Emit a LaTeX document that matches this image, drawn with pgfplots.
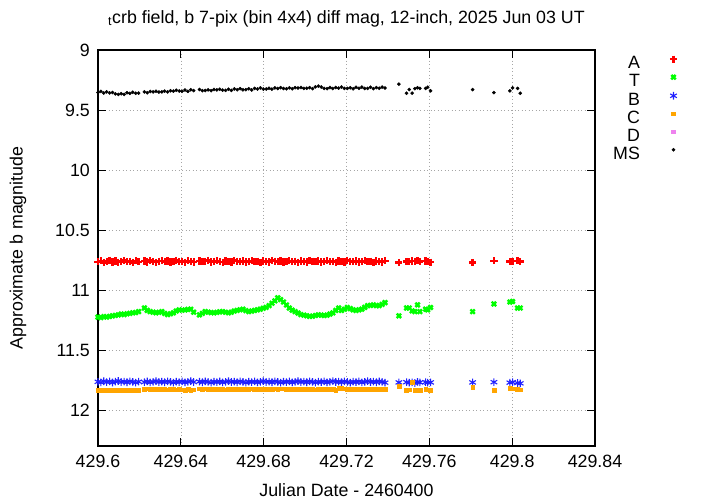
\documentclass[border=0pt]{standalone}
\usepackage{fontspec}
\setmainfont{Liberation Sans}
\usepackage{pgfplots}
\usepackage{pgfplotstable}
\pgfplotsset{compat=1.18}
\definecolor{cOrange}{HTML}{FFA500}
\definecolor{cViolet}{HTML}{EE82EE}
\definecolor{cBlue}{HTML}{2020FF}
\def\jdstrip429.#1\relax{0.#1}
\pgfplotstableread{
t A T B C MS
429.6000 10.764 11.226 11.765 11.835 9.354
429.6014 10.756 11.230 11.770 11.832 9.345
429.6028 10.770 11.222 11.760 11.838 9.358
429.6042 10.760 11.225 11.768 11.834 9.349
429.6056 10.752 11.220 11.762 11.836 9.358
429.6070 10.766 11.215 11.771 11.833 9.354
429.6084 10.758 11.212 11.764 11.837 9.365
429.6098 10.768 11.208 11.758 11.835 9.370
429.6112 10.762 11.200 11.767 11.834 9.364
429.6126 10.754 11.205 11.763 11.838 9.370
429.6140 10.764 11.198 11.769 11.836 9.357
429.6154 10.760 11.195 11.761 11.833 9.361
429.6168 10.770 11.190 11.766 11.837 9.352
429.6182 10.756 11.188 11.772 11.835 9.360
429.6196 10.764 11.180 11.764 11.834 9.359
429.6224 10.758 11.150 11.768 11.825 9.349
429.6238 10.766 11.170 11.762 11.822 9.356
429.6252 10.754 11.180 11.770 11.826 9.346
429.6266 10.762 11.185 11.765 11.828 9.349
429.6280 10.768 11.190 11.759 11.827 9.344
429.6294 10.760 11.186 11.767 11.829 9.350
429.6308 10.756 11.180 11.763 11.826 9.349
429.6322 10.764 11.195 11.769 11.828 9.343
429.6336 10.758 11.205 11.761 11.830 9.349
429.6350 10.766 11.198 11.766 11.827 9.339
429.6364 10.762 11.190 11.772 11.829 9.342
429.6378 10.754 11.175 11.764 11.831 9.336
429.6392 10.764 11.166 11.768 11.828 9.342
429.6406 10.760 11.168 11.762 11.830 9.344
429.6420 10.768 11.166 11.770 11.832 9.334
429.6434 10.756 11.162 11.765 11.829 9.344
429.6448 10.762 11.160 11.759 11.833 9.331
429.6462 10.766 11.185 11.767 11.831 9.338
429.6490 10.758 11.207 11.763 11.822 9.329
429.6504 10.764 11.195 11.769 11.824 9.339
429.6518 10.760 11.180 11.761 11.823 9.338
429.6532 10.754 11.185 11.766 11.825 9.332
429.6546 10.766 11.188 11.772 11.826 9.339
429.6560 10.762 11.190 11.764 11.828 9.329
429.6574 10.756 11.186 11.768 11.827 9.333
429.6588 10.764 11.182 11.762 11.829 9.327
429.6602 10.768 11.180 11.770 11.828 9.334
429.6616 10.758 11.185 11.765 11.830 9.336
429.6630 10.762 11.190 11.759 11.829 9.327
429.6644 10.766 11.185 11.767 11.828 9.337
429.6658 10.754 11.175 11.763 11.826 9.324
429.6672 10.760 11.170 11.769 11.827 9.331
429.6686 10.764 11.165 11.761 11.825 9.322
429.6700 10.758 11.160 11.766 11.826 9.332
429.6714 10.766 11.172 11.772 11.824 9.331
429.6728 10.762 11.180 11.764 11.825 9.323
429.6742 10.756 11.175 11.768 11.823 9.333
429.6756 10.764 11.170 11.762 11.824 9.320
429.6770 10.760 11.165 11.770 11.826 9.325
429.6784 10.768 11.160 11.765 11.825 9.316
429.6798 10.758 11.152 11.759 11.827 9.326
429.6812 10.762 11.145 11.767 11.826 9.325
429.6826 10.766 11.130 11.763 11.824 9.319
429.6840 10.754 11.110 11.769 11.825 9.326
429.6854 10.760 11.090 11.761 11.823 9.316
429.6868 10.764 11.065 11.766 11.824 9.320
429.6882 10.758 11.080 11.772 11.822 9.314
429.6896 10.766 11.100 11.764 11.823 9.321
429.6910 10.762 11.125 11.768 11.825 9.323
429.6924 10.756 11.150 11.762 11.824 9.315
429.6938 10.764 11.168 11.770 11.826 9.323
429.6952 10.760 11.180 11.765 11.825 9.314
429.6966 10.768 11.192 11.759 11.827 9.317
429.6980 10.758 11.205 11.767 11.826 9.312
429.6994 10.762 11.210 11.763 11.828 9.320
429.7008 10.766 11.215 11.769 11.827 9.319
429.7022 10.754 11.220 11.761 11.829 9.314
429.7036 10.760 11.218 11.766 11.828 9.322
429.7050 10.764 11.212 11.772 11.830 9.307
429.7064 10.758 11.207 11.764 11.829 9.301
429.7078 10.766 11.210 11.768 11.827 9.308
429.7092 10.762 11.212 11.762 11.828 9.320
429.7106 10.756 11.210 11.770 11.826 9.322
429.7120 10.764 11.200 11.765 11.828 9.313
429.7134 10.760 11.190 11.759 11.829 9.321
429.7148 10.768 11.170 11.767 11.832 9.312
429.7162 10.758 11.150 11.763 11.820 9.317
429.7176 10.762 11.170 11.769 11.818 9.309
429.7190 10.766 11.160 11.761 11.822 9.320
429.7204 10.754 11.146 11.766 11.825 9.320
429.7218 10.760 11.155 11.772 11.824 9.315
429.7232 10.764 11.165 11.764 11.826 9.323
429.7246 10.758 11.170 11.768 11.825 9.311
429.7260 10.766 11.165 11.762 11.827 9.319
429.7274 10.762 11.160 11.770 11.826 9.309
429.7288 10.756 11.145 11.765 11.828 9.320
429.7302 10.764 11.130 11.759 11.827 9.320
429.7316 10.760 11.128 11.767 11.829 9.311
429.7330 10.768 11.125 11.763 11.828 9.322
429.7344 10.758 11.130 11.769 11.826 9.313
429.7358 10.762 11.130 11.761 11.827 9.318
429.7372 10.766 11.120 11.766 11.825 9.309
429.7386 10.756 11.105 11.772 11.826 9.317
429.7453 10.770 11.215 11.770 11.800 9.285
429.7490 10.762 11.150 11.768 11.832 9.360
429.7503 10.765 11.150 11.772 11.830 9.330
429.7517 10.758 11.174 11.770 11.765 9.360
429.7530 10.760 11.180 11.775 11.835 9.322
429.7543 10.756 11.124 11.766 11.830 9.315
429.7554 10.762 11.180 11.770 11.832 9.320
429.7582 10.758 11.160 11.768 11.828 9.320
429.7592 10.762 11.165 11.772 11.830 9.310
429.7606 10.768 11.146 11.770 11.836 9.340
429.7809 10.770 11.180 11.770 11.810 9.330
429.7912 10.757 11.116 11.768 11.835 9.355
429.7989 10.762 11.100 11.772 11.820 9.340
429.8002 10.760 11.096 11.768 11.822 9.315
429.8026 10.757 11.150 11.775 11.828 9.320
429.8039 10.762 11.150 11.778 11.830 9.360
}\datatable
\begin{document}
\fontsize{17.8bp}{21bp}\selectfont
\begin{tikzpicture}
\useasboundingbox (0,0) rectangle (720bp,504bp);
\begin{axis}[
  at={(98bp,58bp)}, anchor=south west,
  scale only axis, width=497bp, height=396bp,
  x coord trafo/.code={\edef\pgfmathresult{\jdstrip#1\relax}},
  xmin=429.6, xmax=429.84,
  ymin=9, ymax=12.3, y dir=reverse,
  xtick={429.6,429.64,429.68,429.72,429.76,429.8,429.84},
  xticklabels={429.6,429.64,429.68,429.72,429.76,429.8,429.84},
  ytick={9,9.5,10,10.5,11,11.5,12},
  yticklabels={9,9.5,10,10.5,11,11.5,12},
  /pgf/number format/assume math mode=true,
  scaled x ticks=false,
  tick align=inside, major tick length=8bp,
  tick style={black, line width=0.9bp},
  axis line style={line width=1.3bp},
  grid=major,
  major grid style={gray!70, line width=0.6bp, dash pattern=on 1bp off 2.5bp},
  xticklabel style={yshift=-3bp},
  yticklabel style={xshift=-2bp},
  title={\textsubscript{t}crb field, b 7-pix (bin 4x4) diff mag, 12-inch, 2025 Jun 03 UT},
  title style={at={(axis description cs:0.5,1)}, anchor=base, yshift=21bp},
  xlabel={Julian Date - 2460400},
  ylabel={Approximate b magnitude},
  every axis x label/.style={at={(axis description cs:0.5,-0.111)}, anchor=center},
  every axis y label/.style={at={(axis description cs:-0.161,0.5)}, anchor=center, rotate=90},
  legend plot pos=right,
  legend cell align=right,
  legend image code/.code={\draw[#1] plot coordinates {(0bp,5.8bp)};},
  legend style={at={(axis description cs:1.1656,0.9864)}, anchor=north east,
    draw=none, fill=none, inner sep=0pt, column sep=28bp,
    nodes={inner sep=2bp, text height=11bp, text depth=3bp}},
]
\addplot[only marks, mark=+, color=red, mark size=3.6bp, line width=2.3bp] table[x=t,y=A]{\datatable};
\addlegendentry{A}
\addplot[only marks, mark=x, color=green, mark size=3.1bp, line width=2.4bp] table[x=t,y=T]{\datatable};
\addlegendentry{T}
\addplot[only marks, mark=asterisk, color=cBlue, mark size=3.8bp, line width=1.1bp] table[x=t,y=B]{\datatable};
\addlegendentry{B}
\addplot[only marks, mark=square*, color=cOrange, mark size=1.9bp] table[x=t,y=C]{\datatable};
\addlegendentry{C}
\addlegendimage{only marks, mark=square*, color=cViolet, mark size=1.9bp}
\addlegendentry{D}
\addplot[only marks, mark=*, color=black, mark size=1.6bp] table[x=t,y=MS]{\datatable};
\addlegendentry{MS}
\end{axis}
\end{tikzpicture}
\end{document}
